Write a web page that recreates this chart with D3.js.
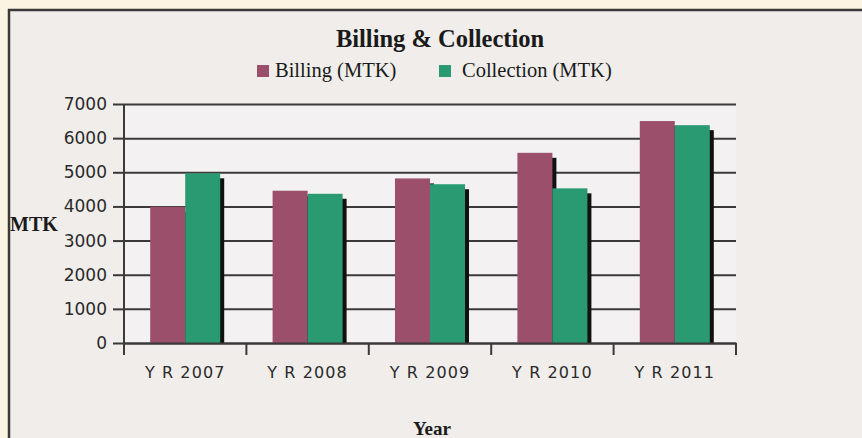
<!DOCTYPE html>
<html>
<head>
<meta charset="utf-8">
<script src="https://cdn.jsdelivr.net/npm/d3@7"></script>
<style>
  body { margin: 0; background: #fcf4e3; }
  svg { display: block; }
</style>
</head>
<body>
<script>
const WIDTH = 862;
const HEIGHT = 438;
const LEFT = 124, RIGHT = 736, TOP = 104, BOTTOM = 343;

var years = ['Y R 2007', 'Y R 2008', 'Y R 2009', 'Y R 2010', 'Y R 2011'];
var billing = [3990, 4460, 4820, 5570, 6500];
var collection = [4970, 4370, 4650, 4530, 6380];
var seriesNames = ['Billing (MTK)', 'Collection (MTK)'];
var seriesColors = ['#9b4f6b', '#2a9a73'];
var yTicks = [0, 1000, 2000, 3000, 4000, 5000, 6000, 7000];

var svg = d3.select('body').append('svg')
  .attr('width', WIDTH)
  .attr('height', HEIGHT);

// chart box
svg.append('rect')
  .attr('x', 9).attr('y', 10)
  .attr('width', WIDTH + 10).attr('height', HEIGHT + 10)
  .style('fill', '#f0edeb')
  .style('stroke', '#3a3a3a')
  .style('stroke-width', 2.5);

svg.append('rect')
  .attr('x', LEFT).attr('y', TOP)
  .attr('width', RIGHT - LEFT).attr('height', BOTTOM - TOP)
  .style('fill', '#f3f1f1');

var x = d3.scaleBand()
  .domain(years)
  .range([LEFT, RIGHT])
  .paddingInner(0.428)
  .paddingOuter(0.214);

var x1 = d3.scaleBand()
  .domain([0, 1])
  .range([0, x.bandwidth()]);

var y = d3.scaleLinear()
  .domain([0, 7000])
  .range([BOTTOM, TOP]);

// gridlines
var grid = svg.append('g')
  .attr('transform', 'translate(' + LEFT + ',0)')
  .call(d3.axisLeft(y).tickValues(yTicks).tickSize(-(RIGHT - LEFT)).tickFormat(''));
grid.select('.domain').remove();
grid.selectAll('line').style('stroke', '#3a3a3a').style('stroke-width', 2);

// y axis ticks + labels
var yAxis = svg.append('g')
  .attr('transform', 'translate(' + LEFT + ',0)')
  .call(d3.axisLeft(y).tickValues(yTicks).tickFormat(d3.format('d'))
    .tickSize(11).tickSizeOuter(0).tickPadding(6));
yAxis.select('.domain').remove();
yAxis.selectAll('line').style('stroke', '#3a3a3a').style('stroke-width', 2);
yAxis.selectAll('text')
  .style('font-family', 'DejaVu Sans, Verdana, sans-serif')
  .style('font-size', '17px')
  .style('fill', '#2a2a2a');

// bars with a dark drop shadow on the right
var data = [billing, collection];
data.forEach(function(vals, s) {
  var g = svg.append('g');
  g.selectAll('rect.shadow')
    .data(vals)
    .enter().append('rect')
    .attr('class', 'shadow')
    .attr('x', function(d, i) { return x(years[i]) + x1(s) + 4; })
    .attr('y', function(d) { return y(d) + 5; })
    .attr('width', x1.bandwidth())
    .attr('height', function(d) { return y(0) - y(d) - 5; })
    .style('fill', '#111');
  g.selectAll('rect.bar')
    .data(vals)
    .enter().append('rect')
    .attr('class', 'bar')
    .attr('x', function(d, i) { return x(years[i]) + x1(s); })
    .attr('y', function(d) { return y(d); })
    .attr('width', x1.bandwidth())
    .attr('height', function(d) { return y(0) - y(d); })
    .style('fill', seriesColors[s]);
});

// axis lines
svg.append('line')
  .attr('x1', LEFT).attr('x2', LEFT)
  .attr('y1', TOP).attr('y2', BOTTOM + 12)
  .style('stroke', '#3a3a3a').style('stroke-width', 2);

var xAxis = svg.append('g')
  .attr('transform', 'translate(0,' + BOTTOM + ')')
  .call(d3.axisBottom(x).tickSize(0).tickPadding(24));
xAxis.select('.domain').style('stroke', '#3a3a3a').style('stroke-width', 2);
xAxis.selectAll('text')
  .style('font-family', 'DejaVu Sans, Verdana, sans-serif')
  .style('font-size', '16px')
  .style('letter-spacing', '1.1px')
  .style('fill', '#2a2a2a');

// category boundary ticks
var bounds = d3.range(years.length + 1).map(function(i) { return x.range()[0] + i * x.step(); });
svg.append('g').selectAll('line')
  .data(bounds)
  .enter().append('line')
  .attr('x1', function(d) { return d; }).attr('x2', function(d) { return d; })
  .attr('y1', BOTTOM).attr('y2', BOTTOM + 12)
  .style('stroke', '#3a3a3a').style('stroke-width', 2);

// titles
svg.append('text')
  .attr('x', 440).attr('y', 47)
  .attr('text-anchor', 'middle')
  .style('font-family', 'Liberation Serif, Times New Roman, serif')
  .style('font-weight', 'bold')
  .style('font-size', '24.5px')
  .style('fill', '#1a1a1a')
  .text('Billing & Collection');

svg.append('text')
  .attr('x', 10).attr('y', 231)
  .style('font-family', 'Liberation Serif, Times New Roman, serif')
  .style('font-weight', 'bold')
  .style('font-size', '20px')
  .style('fill', '#1a1a1a')
  .text('MTK');

svg.append('text')
  .attr('x', 432).attr('y', 435)
  .attr('text-anchor', 'middle')
  .style('font-family', 'Liberation Serif, Times New Roman, serif')
  .style('font-weight', 'bold')
  .style('font-size', '19px')
  .style('fill', '#1a1a1a')
  .text('Year');

// legend
var legendX = [257, 439];
var legend = svg.append('g').selectAll('g')
  .data(seriesNames)
  .enter().append('g')
  .attr('transform', function(d, i) { return 'translate(' + legendX[i] + ',65)'; });
legend.append('rect')
  .attr('width', 12).attr('height', 12)
  .style('fill', function(d, i) { return seriesColors[i]; });
legend.append('text')
  .attr('x', function(d, i) { return i === 0 ? 18 : 23; })
  .attr('y', 12)
  .style('font-family', 'Liberation Serif, Times New Roman, serif')
  .style('font-size', '20.5px')
  .style('fill', '#1a1a1a')
  .text(function(d) { return d; });
</script>
</body>
</html>
